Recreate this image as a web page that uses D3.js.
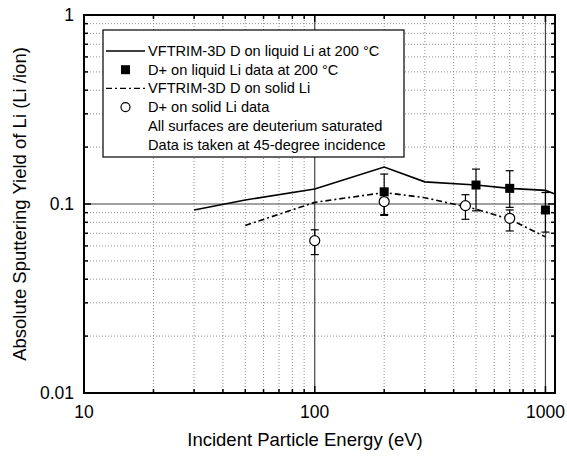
<!DOCTYPE html>
<html>
<head>
<meta charset="utf-8">
<script src="https://cdn.jsdelivr.net/npm/d3@7"></script>
<style>
  body { margin: 0; background: #fff; }
  text { font-family: "Liberation Sans", Arial, sans-serif; fill: #000; }
</style>
</head>
<body>
<svg id="chart"></svg>
<script>
// VFTRIM-3D simulation curves
var liqSimE = [30, 50, 100, 200, 300, 500, 700, 1000, 1100];
var liqSimY = [0.093, 0.105, 0.120, 0.157, 0.131, 0.126, 0.121, 0.118, 0.113];
var solSimE = [50, 100, 200, 300, 500, 700, 1000];
var solSimY = [0.077, 0.102, 0.115, 0.108, 0.094, 0.083, 0.067];

// measured data with error bars
var liqDataE = [200, 500, 700, 1000];
var liqDataY = [0.116, 0.126, 0.121, 0.093];
var liqErrLo = [0.088, 0.092, 0.096, 0.071];
var liqErrHi = [0.144, 0.153, 0.150, 0.115];

var solDataE = [100, 200, 450, 700];
var solDataY = [0.064, 0.103, 0.098, 0.084];
var solErrLo = [0.054, 0.087, 0.083, 0.072];
var solErrHi = [0.073, 0.120, 0.112, 0.093];

var xTicks = [10, 100, 1000];
var xTickLabels = ["10", "100", "1000"];
var yTicks = [0.01, 0.1, 1];
var yTickLabels = ["0.01", "0.1", "1"];

var legendItems = [
  {label: "VFTRIM-3D D on liquid Li at 200 \u00B0C", kind: "solid"},
  {label: "D+ on liquid Li data at 200 \u00B0C", kind: "square"},
  {label: "VFTRIM-3D D on solid Li", kind: "dashdot"},
  {label: "D+ on solid Li data", kind: "circle"},
  {label: "All surfaces are deuterium saturated", kind: "none"},
  {label: "Data is taken at 45-degree incidence", kind: "none"}
];

var W = 567, H = 458;
var margin = {top: 15, right: 12, bottom: 65, left: 84};
var svg = d3.select("#chart").attr("width", W).attr("height", H);

var x = d3.scaleLog().domain([10, 1100]).range([margin.left, W - margin.right]);
var y = d3.scaleLog().domain([0.01, 1]).range([H - margin.bottom, margin.top]);

var x0 = x.range()[0], x1 = x.range()[1], y0 = y.range()[0], y1 = y.range()[1];

// minor / major values
var xMinor = [], yMinor = [];
[10, 100, 1000].forEach(function(d) {
  for (var k = 2; k <= 9; k++) if (d * k <= 1100) xMinor.push(d * k);
});
[0.01, 0.1].forEach(function(d) {
  for (var k = 2; k <= 9; k++) yMinor.push(d * k);
});

var grid = svg.append("g");
grid.selectAll(".gx").data(xMinor).enter().append("line")
  .attr("x1", d => x(d)).attr("x2", d => x(d))
  .attr("y1", y0).attr("y2", y1)
  .attr("stroke", "#777").attr("stroke-width", 0.8).attr("stroke-dasharray", "1,2");
grid.selectAll(".gy").data(yMinor).enter().append("line")
  .attr("x1", x0).attr("x2", x1)
  .attr("y1", d => y(d)).attr("y2", d => y(d))
  .attr("stroke", "#777").attr("stroke-width", 0.8).attr("stroke-dasharray", "1,2");
grid.selectAll(".mx").data([100, 1000]).enter().append("line")
  .attr("x1", d => x(d)).attr("x2", d => x(d))
  .attr("y1", y0).attr("y2", y1)
  .attr("stroke", "#444").attr("stroke-width", 1.2);
grid.selectAll(".my").data([0.1]).enter().append("line")
  .attr("x1", x0).attr("x2", x1)
  .attr("y1", d => y(d)).attr("y2", d => y(d))
  .attr("stroke", "#444").attr("stroke-width", 1.2);

// inward ticks on all four sides
var ticks = svg.append("g").attr("stroke", "#000").attr("stroke-width", 1.5);
function tickLen(d, majors) { return majors.indexOf(d) >= 0 ? 7 : 4; }
var xAll = xMinor.concat([100, 1000]);
var yAll = yMinor.concat([0.1]);
xAll.forEach(function(d) {
  var l = tickLen(d, [100, 1000]);
  ticks.append("line").attr("x1", x(d)).attr("x2", x(d)).attr("y1", y0).attr("y2", y0 - l);
  ticks.append("line").attr("x1", x(d)).attr("x2", x(d)).attr("y1", y1).attr("y2", y1 + l);
});
yAll.forEach(function(d) {
  var l = tickLen(d, [0.1]);
  ticks.append("line").attr("y1", y(d)).attr("y2", y(d)).attr("x1", x0).attr("x2", x0 + l);
  ticks.append("line").attr("y1", y(d)).attr("y2", y(d)).attr("x1", x1).attr("x2", x1 - l);
});

// frame
svg.append("rect").attr("x", x0).attr("y", y1)
  .attr("width", x1 - x0).attr("height", y0 - y1)
  .attr("fill", "none").attr("stroke", "#000").attr("stroke-width", 2);

// tick labels
svg.selectAll(".xl").data(xTicks).enter().append("text")
  .attr("x", d => x(d)).attr("y", y0 + 24.5)
  .attr("text-anchor", "middle").attr("font-size", 17.5)
  .text((d, i) => xTickLabels[i]);
svg.selectAll(".yl").data(yTicks).enter().append("text")
  .attr("x", x0 - 10).attr("y", d => y(d) + 6)
  .attr("text-anchor", "end").attr("font-size", 17.5)
  .text((d, i) => yTickLabels[i]);

// axis titles
svg.append("text").attr("x", 305).attr("y", 446)
  .attr("text-anchor", "middle").attr("font-size", 18.5)
  .text("Incident Particle Energy (eV)");
svg.append("text")
  .attr("transform", "translate(26," + ((y0 + y1) / 2) + ") rotate(-90)")
  .attr("text-anchor", "middle").attr("font-size", 18.5)
  .text("Absolute Sputtering Yield of Li (Li /ion)");

// curves
var line = d3.line().x(d => x(d[0])).y(d => y(d[1]));
svg.append("path").datum(d3.zip(liqSimE, liqSimY))
  .attr("d", line).attr("fill", "none").attr("stroke", "#000").attr("stroke-width", 1.6);
svg.append("path").datum(d3.zip(solSimE, solSimY))
  .attr("d", line).attr("fill", "none").attr("stroke", "#000").attr("stroke-width", 1.6)
  .attr("stroke-dasharray", "6,3,2,3");

// error bars
function errorBars(E, lo, hi) {
  var g = svg.append("g").attr("stroke", "#000").attr("stroke-width", 1.2);
  E.forEach(function(e, i) {
    var cx = x(e);
    g.append("line").attr("x1", cx).attr("x2", cx).attr("y1", y(lo[i])).attr("y2", y(hi[i]));
    g.append("line").attr("x1", cx - 4).attr("x2", cx + 4).attr("y1", y(lo[i])).attr("y2", y(lo[i]));
    g.append("line").attr("x1", cx - 4).attr("x2", cx + 4).attr("y1", y(hi[i])).attr("y2", y(hi[i]));
  });
}
errorBars(liqDataE, liqErrLo, liqErrHi);
errorBars(solDataE, solErrLo, solErrHi);

svg.selectAll(".sq").data(d3.zip(liqDataE, liqDataY)).enter().append("rect")
  .attr("x", d => x(d[0]) - 4.5).attr("y", d => y(d[1]) - 4.5)
  .attr("width", 9).attr("height", 9).attr("fill", "#000");
svg.selectAll(".ci").data(d3.zip(solDataE, solDataY)).enter().append("circle")
  .attr("cx", d => x(d[0])).attr("cy", d => y(d[1])).attr("r", 5)
  .attr("fill", "#fff").attr("stroke", "#000").attr("stroke-width", 1.2);

// legend
var lg = svg.append("g");
lg.append("rect").attr("x", 103).attr("y", 30).attr("width", 301).attr("height", 127)
  .attr("fill", "#fff").attr("stroke", "#000").attr("stroke-width", 1.2);
legendItems.forEach(function(it, i) {
  var cy = 51 + i * 18.7;
  if (it.kind === "solid" || it.kind === "dashdot") {
    lg.append("line").attr("x1", 106).attr("x2", 145).attr("y1", cy).attr("y2", cy)
      .attr("stroke", "#000").attr("stroke-width", 1.4)
      .attr("stroke-dasharray", it.kind === "dashdot" ? "6,3,2,3" : null);
  } else if (it.kind === "square") {
    lg.append("rect").attr("x", 121).attr("y", cy - 4.5).attr("width", 9).attr("height", 9).attr("fill", "#000");
  } else if (it.kind === "circle") {
    lg.append("circle").attr("cx", 125.5).attr("cy", cy).attr("r", 4.5)
      .attr("fill", "#fff").attr("stroke", "#000").attr("stroke-width", 1.2);
  }
  lg.append("text").attr("x", 148).attr("y", cy + 5).attr("font-size", 14.6).text(it.label);
});
</script>
</body>
</html>
